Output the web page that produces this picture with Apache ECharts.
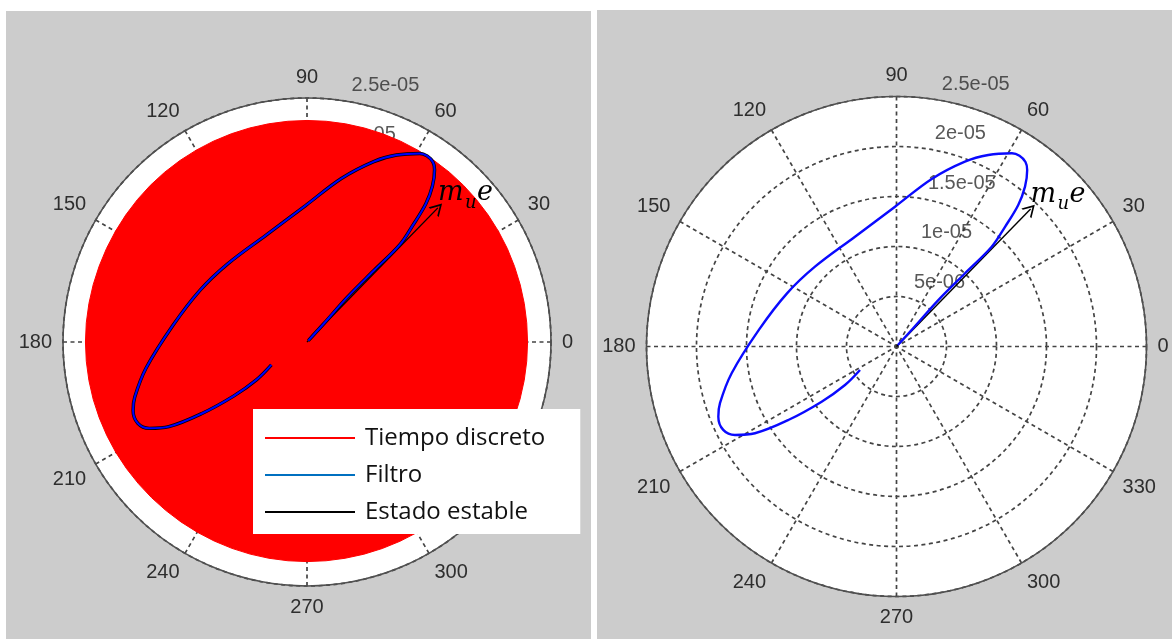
<!DOCTYPE html>
<html><head><meta charset="utf-8">
<script src="https://cdn.jsdelivr.net/npm/echarts@6/dist/echarts.min.js"></script>
<style>html,body{margin:0;padding:0;background:#fff}#c{width:1172px;height:639px}</style>
</head><body><div id="c"></div>
<script>
// ---- data ----
const angleTicks = [0, 30, 60, 90, 120, 150, 180, 210, 240, 270, 300, 330];
const radiusTicks = [5e-6, 1e-5, 1.5e-5, 2e-5, 2.5e-5];
const radiusTickLabels = ['5e-06', '1e-05', '1.5e-05', '2e-05', '2.5e-05'];
const seriesNames = ['Tiempo discreto', 'Filtro', 'Estado estable'];
// Filtro trajectory (radius, angle in degrees)
const filtroR = [0.20e-6, 2.50e-6, 6.25e-6, 10.03e-6, 13.79e-6, 16.16e-6, 18.67e-6, 20.51e-6, 21.97e-6, 22.51e-6,
  22.69e-6, 22.51e-6, 21.24e-6, 19.71e-6, 17.12e-6, 13.98e-6, 11.74e-6, 11.41e-6, 12.17e-6,
  13.85e-6, 16.70e-6, 18.54e-6, 19.15e-6, 19.23e-6, 18.42e-6, 16.60e-6, 13.08e-6, 9.30e-6, 6.43e-6, 4.34e-6];
const filtroTheta = [47.0, 47.5, 48.0, 46.9, 46.35, 47.8, 49.3, 51.2, 53.5, 55.04,
  57.18, 59.13, 64.4, 69.7, 78.13, 90.6, 110.7, 135.6, 154.1,
  173.0, 189.2, 197.8, 201.5, 205.7, 208.7, 211.5, 214.2, 216.4, 216.8, 212.8];
// Tiempo discreto (filled disc edge)
const discretoTheta = [0,5,10,15,20,25,30,35,40,45,50,55,60,65,70,75,80,85,90,95,100,105,110,115,120,
  125,130,135,140,145,150,155,160,165,170,175,180,185,190,195,200,205,210,215,220,225,230,235,240,
  245,250,255,260,265,270,275,280,285,290,295,300,305,310,315,320,325,330,335,340,345,350,355,360];
const discretoR = [22.60e-6,22.60e-6,22.61e-6,22.62e-6,22.63e-6,22.65e-6,22.66e-6,22.67e-6,22.68e-6,22.69e-6,
  22.70e-6,22.70e-6,22.70e-6,22.70e-6,22.70e-6,22.70e-6,22.70e-6,22.70e-6,22.70e-6,22.70e-6,
  22.70e-6,22.70e-6,22.70e-6,22.70e-6,22.70e-6,22.70e-6,22.70e-6,22.70e-6,22.69e-6,22.68e-6,
  22.67e-6,22.67e-6,22.67e-6,22.68e-6,22.69e-6,22.70e-6,22.70e-6,22.70e-6,22.69e-6,22.68e-6,
  22.66e-6,22.64e-6,22.62e-6,22.59e-6,22.56e-6,22.54e-6,22.52e-6,22.51e-6,22.50e-6,22.50e-6,
  22.50e-6,22.50e-6,22.50e-6,22.50e-6,22.50e-6,22.50e-6,22.50e-6,22.51e-6,22.52e-6,22.53e-6,
  22.54e-6,22.55e-6,22.56e-6,22.57e-6,22.58e-6,22.59e-6,22.60e-6,22.60e-6,22.60e-6,22.60e-6,
  22.60e-6,22.60e-6,22.60e-6];
// Estado estable vector (arrow m_u e)
const estadoR = [0, 19.2e-6];
const estadoTheta = [45.7, 45.7];

// ---- layout ----
const polarCenters = [[307, 342], [896.5, 346.5]];
const polarRadii = [244, 250];

const chart = echarts.init(document.getElementById('c'), null, {renderer: 'canvas'});
const pair = (rs, ts) => rs.map((r, i) => [r, ts[i]]);
const chevron = 'path://M0,10 L5,0 L10,10 L8.6,10 L5,2.8 L1.4,10 Z';
const labelFont = 'Liberation Sans';
const gridStyle = {color: '#444444', width: 1.7, type: [4, 3.5]};

function angleAxis(idx) {
  return {
    polarIndex: idx, type: 'value', min: 0, max: 360, interval: 30,
    startAngle: 0, clockwise: false, z: 1,
    axisLine: {show: true, lineStyle: {color: '#505050', width: 1.6}},
    axisTick: {show: false},
    axisLabel: {show: true, margin: 11, color: '#2e2e2e', fontSize: 20, fontFamily: labelFont,
      formatter: v => angleTicks.includes(v) ? String(v) : ''},
    splitLine: {show: true, lineStyle: gridStyle},
    splitArea: {show: false}
  };
}
function radiusAxis(idx) {
  return {
    polarIndex: idx, type: 'value', min: 0, max: 2.5e-5, interval: 5e-6, z: 1,
    axisLine: {show: false}, axisTick: {show: false}, axisLabel: {show: false},
    splitLine: {show: true, lineStyle: gridStyle}
  };
}
function radiusLabels(idx) {
  return {
    type: 'scatter', coordinateSystem: 'polar', polarIndex: idx, symbolSize: 1, silent: true, z: 2,
    itemStyle: {color: 'rgba(0,0,0,0)'},
    data: radiusTicks.map((r, i) => ({value: [r, 82], label: {formatter: radiusTickLabels[i]}})),
    label: {show: true, position: [11, -14], align: 'left', verticalAlign: 'middle',
      color: '#2e2e2e', fontSize: 20, fontFamily: labelFont}
  };
}
function arrowMark() {
  return {
    silent: true, symbol: ['none', chevron], symbolSize: [14, 12], precision: 10,
    lineStyle: {color: '#000', width: 1.4, type: 'solid'},
    label: {show: false}, emphasis: {disabled: true},
    data: [[{coord: [estadoR[0], estadoTheta[0]]}, {coord: [estadoR[1], estadoTheta[1]]}]]
  };
}
function baseGraphics() {
  return [
    {id: 'bgL', type: 'rect', z: -10, silent: true, shape: {x: 6, y: 11, width: 585, height: 628}, style: {fill: '#cccccc'}},
    {id: 'bgR', type: 'rect', z: -10, silent: true, shape: {x: 597, y: 10, width: 575, height: 629}, style: {fill: '#cccccc'}},
    {id: 'discL', type: 'circle', z: -9, silent: true, shape: {cx: polarCenters[0][0], cy: polarCenters[0][1], r: polarRadii[0]}, style: {fill: '#ffffff'}},
    {id: 'discR', type: 'circle', z: -9, silent: true, shape: {cx: polarCenters[1][0], cy: polarCenters[1][1], r: polarRadii[1]}, style: {fill: '#ffffff'}}
  ];
}

const option = {
  backgroundColor: '#ffffff',
  animation: false,
  graphic: baseGraphics(),
  polar: [
    {center: polarCenters[0], radius: polarRadii[0]},
    {center: polarCenters[1], radius: polarRadii[1]}
  ],
  angleAxis: [angleAxis(0), angleAxis(1)],
  radiusAxis: [radiusAxis(0), radiusAxis(1)],
  legend: {
    left: 253, top: 409, orient: 'vertical', backgroundColor: '#ffffff',
    padding: [16, 35, 9, 12], itemGap: 11, itemWidth: 90, itemHeight: 2, icon: 'rect',
    selectedMode: false, z: 10,
    textStyle: {fontFamily: 'Open Sans', fontSize: 24, color: '#111', lineHeight: 26, padding: [0, 0, 0, 5]},
    data: [
      {name: seriesNames[0], itemStyle: {color: '#ff0000'}},
      {name: seriesNames[1], itemStyle: {color: '#0070c0'}},
      {name: seriesNames[2], itemStyle: {color: '#000000'}}
    ]
  },
  series: [
    radiusLabels(0),
    {
      name: seriesNames[0], type: 'line', coordinateSystem: 'polar', polarIndex: 0, z: 3, silent: true,
      data: pair(discretoR, discretoTheta), symbol: 'none', smooth: false,
      lineStyle: {color: '#ff0000', width: 1}, itemStyle: {color: '#ff0000'},
      areaStyle: {color: '#ff0000', opacity: 1}
    },
    {
      name: seriesNames[2], type: 'line', coordinateSystem: 'polar', polarIndex: 0, z: 4, silent: true,
      data: pair(filtroR, filtroTheta), symbol: 'none', smooth: 0.35,
      lineStyle: {color: '#000000', width: 3.4}, itemStyle: {color: '#000000'}
    },
    {
      name: seriesNames[1], type: 'line', coordinateSystem: 'polar', polarIndex: 0, z: 5, silent: true,
      data: pair(filtroR, filtroTheta), symbol: 'none', smooth: 0.35,
      lineStyle: {color: '#0000ff', width: 2}, itemStyle: {color: '#0000ff'},
      markLine: arrowMark()
    },
    radiusLabels(1),
    {
      name: seriesNames[1], type: 'line', coordinateSystem: 'polar', polarIndex: 1, z: 5, silent: true,
      data: pair(filtroR, filtroTheta), symbol: 'none', smooth: 0.35,
      lineStyle: {color: '#0a0aff', width: 2.4}, itemStyle: {color: '#0a0aff'},
      markLine: arrowMark()
    }
  ]
};
chart.setOption(option);

// m_u e labels at the arrow tips
function muLabels(prefix, seriesIndex) {
  const p = chart.convertToPixel({seriesIndex: seriesIndex}, [estadoR[1], estadoTheta[1]]);
  const x = p[0], y = p[1];
  const mk = (id, text, dx, dy, size) => ({
    id: prefix + id, type: 'text', z: 20, silent: true, x: x + dx, y: y + dy,
    style: {text: text, fontSize: size, fontFamily: 'DejaVu Serif', fontStyle: 'italic', fill: '#000',
      align: 'left', verticalAlign: 'bottom'}
  });
  return [mk('m', 'm', 0, -1, 27), mk('u', 'u', 27, 4, 18), mk('e', 'e', 39, -1, 27)];
}
const gfx = baseGraphics().concat(muLabels('L', 3), muLabels('R', 5));
chart.setOption({graphic: gfx}, {replaceMerge: ['graphic']});
</script>
</body></html>
